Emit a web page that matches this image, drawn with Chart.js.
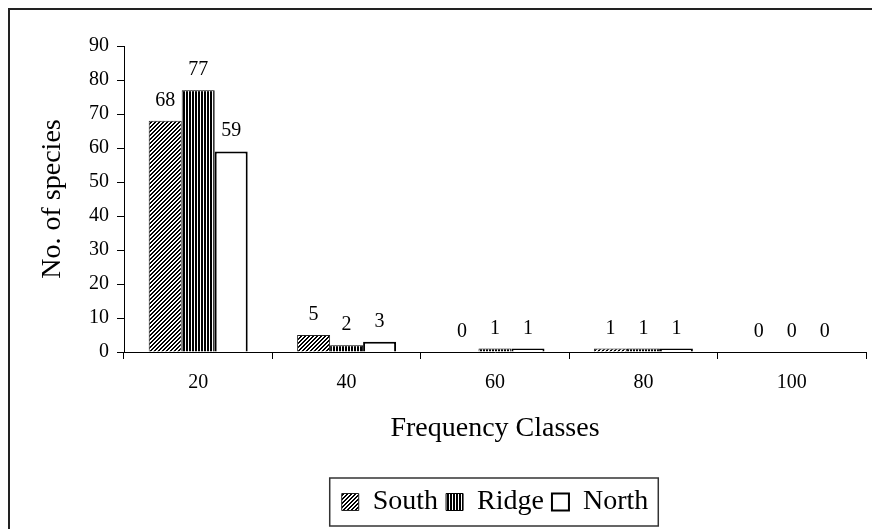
<!DOCTYPE html>
<html>
<head>
<meta charset="utf-8">
<script src="https://cdn.jsdelivr.net/npm/chart.js@4.4.1/dist/chart.umd.min.js"></script>
<style>
  html, body { margin: 0; padding: 0; background: #fff; }
  #wrap { position: relative; width: 872px; height: 529px; overflow: hidden; }
  #frame {
    position: absolute; left: 8px; top: 8px; width: 1000px; height: 1000px;
    border-left: 2px solid #222; border-top: 2px solid #222; pointer-events: none;
  }
  canvas { position: absolute; left: 0; top: 0; }
</style>
</head>
<body>
<div id="wrap">
  <canvas id="chartSpecies" width="872" height="529"></canvas>
  <div id="frame"></div>
</div>
<script>
// species counts per frequency class
const classes = ['20', '40', '60', '80', '100'];
const southCounts = [68, 5, 0, 1, 0];
const ridgeCounts = [77, 2, 1, 1, 0];
const northCounts = [59, 3, 1, 1, 0];
const seriesNames = ['South', 'Ridge', 'North'];
const yMax = 90;
const yStep = 10;

const FONT = "'Liberation Serif', 'Times New Roman', serif";

// hatch fills
function makePattern(draw, size) {
    const c = document.createElement('canvas');
    c.width = size; c.height = size;
    const g = c.getContext('2d');
    g.fillStyle = '#fff';
    g.fillRect(0, 0, size, size);
    g.fillStyle = '#000';
    draw(g, size);
    return g.createPattern(c, 'repeat');
}
const diagFill = makePattern((g, n) => {
    for (let y = 0; y < n; y++) {
        for (let x = 0; x < n; x++) {
            const k = (x + y) % 4;
            if (k === 0 || k === 1) g.fillRect(x, y, 1, 1);
        }
    }
}, 4);
const vertFill = makePattern((g, n) => {
    for (let x = 0; x < n; x++) {
        if (x % 3 !== 2) g.fillRect(x, 0, 1, n);
    }
}, 3);

// value labels above each bar
const valueLabels = {
    id: 'valueLabels',
    afterDatasetsDraw(chart) {
        const ctx = chart.ctx;
        ctx.save();
        ctx.font = '20px ' + FONT;
        ctx.fillStyle = '#000';
        ctx.textAlign = 'center';
        ctx.textBaseline = 'alphabetic';
        chart.data.datasets.forEach((ds, i) => {
            chart.getDatasetMeta(i).data.forEach((bar, j) => {
                ctx.fillText(String(ds.data[j]), bar.x, bar.y - 15);
            });
        });
        ctx.restore();
    }
};

// boxed legend
const legendBox = {
    id: 'legendBox',
    afterDraw(chart) {
        const boxes = chart.legend && chart.legend.legendHitBoxes;
        if (!boxes || !boxes.length) return;
        const first = boxes[0];
        const last = boxes[boxes.length - 1];
        const ctx = chart.ctx;
        ctx.save();
        ctx.strokeStyle = '#333';
        ctx.lineWidth = 1.5;
        const left = first.left - 12;
        const right = last.left + last.width + 10;
        const top = first.top - 10;
        const bottom = first.top + 38;
        ctx.strokeRect(left, top, right - left, bottom - top);
        ctx.restore();
    }
};

const noZero = (w) => (c) => (c.raw === 0 ? 0 : w);

new Chart(document.getElementById('chartSpecies'), {
    type: 'bar',
    data: {
        labels: classes,
        datasets: [
            { label: seriesNames[0], data: southCounts, backgroundColor: diagFill, borderColor: '#222', borderWidth: noZero(1) },
            { label: seriesNames[1], data: ridgeCounts, backgroundColor: vertFill, borderColor: '#000', borderWidth: noZero(1) },
            { label: seriesNames[2], data: northCounts, backgroundColor: '#fff', borderColor: '#000', borderWidth: noZero(2) }
        ]
    },
    options: {
        responsive: false,
        animation: false,
        events: [],
        layout: { padding: { top: 46, right: 6, bottom: 3, left: 0 } },
        datasets: { bar: { categoryPercentage: 0.667, barPercentage: 1.0 } },
        plugins: {
            tooltip: { enabled: false },
            legend: {
                position: 'bottom',
                fullSize: false,
                labels: {
                    color: '#000',
                    font: { family: FONT, size: 28 },
                    boxWidth: 17,
                    boxHeight: 17,
                    padding: 8
                }
            }
        },
        scales: {
            x: {
                offset: true,
                grid: { drawOnChartArea: false, drawTicks: true, tickLength: 7, offset: true, color: '#000' },
                border: { display: true, color: '#000', width: 1 },
                ticks: { color: '#000', font: { family: FONT, size: 20 }, padding: 12, maxRotation: 0 },
                title: { display: true, text: 'Frequency Classes', color: '#000', font: { family: FONT, size: 28 }, padding: { top: 0, bottom: 35 } },
                afterFit(scale) { scale.height = 128; }
            },
            y: {
                min: 0,
                max: yMax,
                grid: { drawOnChartArea: false, drawTicks: true, tickLength: 7, color: '#000' },
                border: { display: true, color: '#000', width: 1 },
                ticks: { stepSize: yStep, color: '#000', font: { family: FONT, size: 20 }, padding: 8 },
                title: { display: true, text: 'No. of species', color: '#000', font: { family: FONT, size: 28 }, padding: { top: 36, bottom: 0 } },
                afterFit(scale) { scale.width = 124; }
            }
        }
    },
    plugins: [valueLabels, legendBox]
});
</script>
</body>
</html>
